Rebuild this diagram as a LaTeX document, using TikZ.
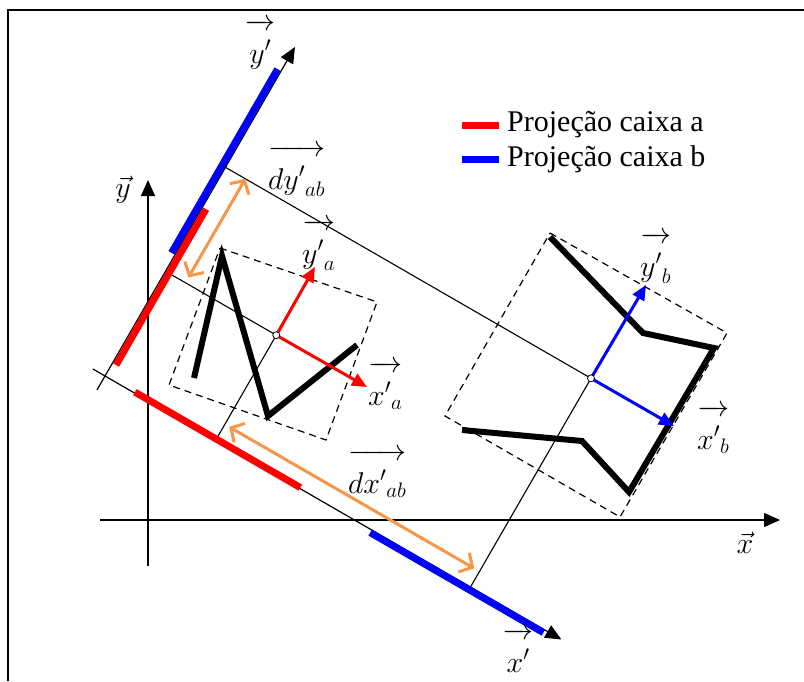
\documentclass[tikz,border=0pt]{standalone}
\usepackage{fix-cm}
\usepackage{fontspec}
\setmainfont{Liberation Serif}
\usetikzlibrary{arrows.meta,calc}
\definecolor{orng}{RGB}{247,150,70}
\definecolor{redc}{RGB}{255,0,0}
\definecolor{bluec}{RGB}{0,0,255}
\newcommand{\ovarrow}[1]{\overrightarrow{\rule{0pt}{1.14em}#1}}
\tikzset{
  axisline/.style={line width=1.4pt,-{Triangle[length=16pt,width=14pt]}},
  projline/.style={line width=1.1pt},
  dashbox/.style={dash pattern=on 7pt off 5pt,line width=1.2pt},
  figline/.style={line width=6pt},
  projbar/.style={line width=7pt},
  vecarrow/.style={line width=3pt,-{Triangle[length=15pt,width=13pt]}},
  dimarrow/.style={orng,line width=3pt,{Straight Barb[length=10pt,width=22pt]}-{Straight Barb[length=10pt,width=22pt]}},
  lbl/.style={font=\fontsize{30}{34}\selectfont,inner sep=0pt},
  plbl/.style={lbl,anchor=north west},
  legendtxt/.style={font=\fontsize{30}{34}\selectfont,anchor=west,inner sep=0pt},
  centre/.style={circle,draw,fill=white,inner sep=0pt,minimum size=7pt,line width=0.8pt}
}
\begin{document}
\begin{tikzpicture}[x=1pt,y=-1pt]
\useasboundingbox (0,0) rectangle (804,681);
% frame
\draw[line width=2pt] (8,681) -- (8,10) -- (804,10);

% coordinates
\coordinate (xs) at (92.9,369);
\coordinate (xt) at (561.4,639.5);
\coordinate (ys) at (97,389.9);
\coordinate (yt) at (295,46.9);
\coordinate (X0) at (100,520);
\coordinate (Xt) at (780,520);
\coordinate (Y0) at (148,566);
\coordinate (Yt) at (148,180);
\coordinate (Ca) at (276.3,335.2);
\coordinate (Cb) at (591.0,378.3);

% projection lines
\draw[projline] (Ca) -- ($(xs)!(Ca)!(xt)$);
\draw[projline] (Ca) -- ($(ys)!(Ca)!(yt)$);
\draw[projline] (Cb) -- ($(xs)!(Cb)!(xt)$);
\draw[projline] (Cb) -- ($(ys)!(Cb)!(yt)$);

% axes
\draw[axisline] (X0) -- (Xt);
\draw[axisline] (Y0) -- (Yt);
\draw[axisline,line width=1.2pt] (xs) -- (xt);
\draw[axisline,line width=1.2pt] (ys) -- (yt);

% projection bars
\coordinate (rx1) at (134.9,392.1); \coordinate (rx2) at (300.4,487.6);
\coordinate (bx1) at (370.2,532.6); \coordinate (bx2) at (543.4,632.6);
\coordinate (ry1) at (116,365);     \coordinate (ry2) at (206,209.1);
\coordinate (by1) at (171.5,252.8); \coordinate (by2) at (277.5,69.2);
\draw[projbar,redc] (rx1) -- (rx2);
\draw[projbar,bluec] (bx1) -- (bx2);
\draw[projbar,redc] (ry1) -- (ry2);
\draw[projbar,bluec] (by1) -- (by2);

% dimension arrows
\coordinate (dy1) at (188.4,277.5); \coordinate (dy2) at (245.4,178.8);
\coordinate (dx1) at (229.2,426.9); \coordinate (dx2) at (474.3,568.4);
\draw[dimarrow] (dy1) -- (dy2);
\draw[dimarrow] (dx1) -- (dx2);

% boxes
\coordinate (a1) at (220,248); \coordinate (a2) at (377,302);
\coordinate (a3) at (326,440); \coordinate (a4) at (169,385);
\draw[dashbox] (a1) -- (a2) -- (a3) -- (a4) -- cycle;
\coordinate (b1) at (550,233); \coordinate (b2) at (727,333);
\coordinate (b3) at (620,517); \coordinate (b4) at (445,416);
\draw[dashbox] (b1) -- (b2) -- (b3) -- (b4) -- cycle;

% figures
\coordinate (fa1) at (194,378); \coordinate (fa2) at (222,256);
\coordinate (fa3) at (268,416); \coordinate (fa4) at (357,345);
\draw[figline] (fa1) -- (fa2) -- (fa3) -- (fa4);
\coordinate (fb1) at (550,237); \coordinate (fb2) at (643,333);
\coordinate (fb3) at (714,348); \coordinate (fb4) at (629,492);
\coordinate (fb5) at (582,441); \coordinate (fb6) at (462,430);
\draw[figline] (fb1) -- (fb2) -- (fb3) -- (fb4) -- (fb5) -- (fb6);

% local frames
\coordinate (ax) at (367,387); \coordinate (ay) at (315,267);
\coordinate (bxv) at (674,426); \coordinate (byv) at (646,285);
\draw[vecarrow,redc] (Ca) -- (ax);
\draw[vecarrow,redc] (Ca) -- (ay);
\draw[vecarrow,bluec] (Cb) -- (bxv);
\draw[vecarrow,bluec] (Cb) -- (byv);
\node[centre] (ca) at (Ca) {};
\node[centre] (cb) at (Cb) {};

% labels
\node[lbl] (lx) at (745,543) {$\vec{x}$};
\node[lbl] (ly) at (123,190) {$\vec{y}$};
\node[plbl] (lxp) at (503,628) {$\ovarrow{x'}$};
\node[plbl] (lyp) at (245,19) {$\ovarrow{y'}$};
\node[plbl] (ldy) at (268,145) {$\ovarrow{d{y'}_{ab}}$};
\node[plbl] (ldx) at (348,449) {$\ovarrow{d{x'}_{ab}}$};
\node[plbl] (lya) at (302,219) {$\ovarrow{{y'}_{a}}$};
\node[plbl] (lxa) at (368,361) {$\ovarrow{{x'}_{a}}$};
\node[plbl] (lyb) at (640,232) {$\ovarrow{{y'}_{b}}$};
\node[plbl] (lxb) at (697,405) {$\ovarrow{{x'}_{b}}$};

% legend
\coordinate (la1) at (462,125); \coordinate (la2) at (499,125);
\coordinate (lb1) at (462,159); \coordinate (lb2) at (499,159);
\draw[projbar,redc] (la1) -- (la2);
\draw[projbar,bluec] (lb1) -- (lb2);
\node[legendtxt] (ta) at (507,125) {Projeção caixa a};
\node[legendtxt] (tb) at (507,159) {Projeção caixa b};
\end{tikzpicture}
\end{document}
